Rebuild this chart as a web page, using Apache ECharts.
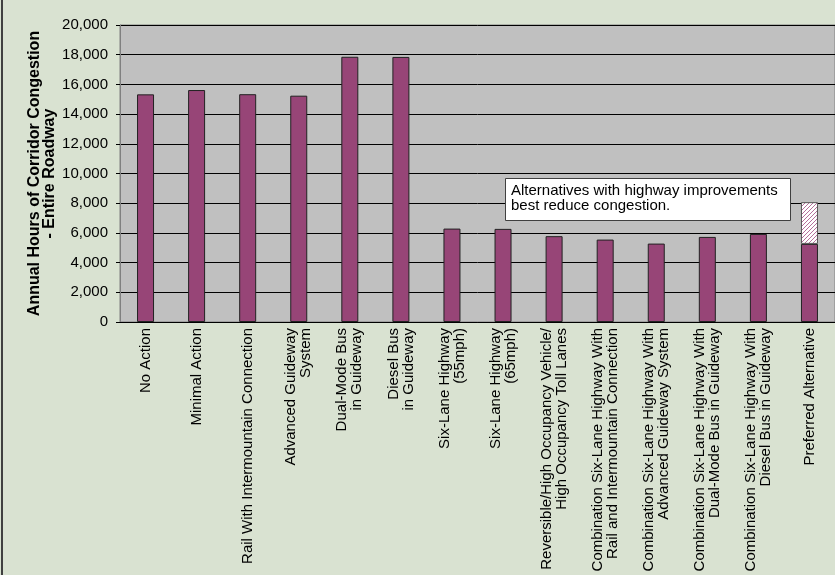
<!DOCTYPE html>
<html>
<head>
<meta charset="utf-8">
<script src="https://cdn.jsdelivr.net/npm/echarts@6/dist/echarts.min.js"></script>
<style>
html,body{margin:0;padding:0;background:#d9e2d1;}
#chart{width:835px;height:575px;}
</style>
</head>
<body>
<div id="chart"></div>
<script>
const categories = [
  'No Action',
  'Minimal Action',
  'Rail With Intermountain Connection',
  'Advanced Guideway\nSystem',
  'Dual-Mode Bus\nin Guideway',
  'Diesel Bus\nin Guideway',
  'Six-Lane Highway\n(55mph)',
  'Six-Lane Highway\n(65mph)',
  'Reversible/High Occupancy Vehicle/\nHigh Occupancy Toll Lanes',
  'Combination Six-Lane Highway With\nRail and Intermountain Connection',
  'Combination Six-Lane Highway With\nAdvanced Guideway System',
  'Combination Six-Lane Highway With\nDual-Mode Bus in Guideway',
  'Combination Six-Lane Highway With\nDiesel Bus in Guideway',
  'Preferred Alternative'
];
const congestion = [15330, 15620, 15340, 15240, 17860, 17850, 6290, 6270, 5780, 5550, 5280, 5730, 5930, 5260];
const preferredRangeExtra = ['-', '-', '-', '-', '-', '-', '-', '-', '-', '-', '-', '-', '-', 2810];
const yAxisMin = 0, yAxisMax = 20000, yAxisStep = 2000;
const yAxisTitle = 'Annual Hours of Corridor Congestion\n- Entire Roadway';
const noteText = 'Alternatives with highway improvements\nbest reduce congestion.';

const barColor = '#974577';

// hatch pattern for the range segment
const pat = document.createElement('canvas');
pat.width = 4; pat.height = 4;
const pctx = pat.getContext('2d');
pctx.fillStyle = '#ffffff';
pctx.fillRect(0, 0, 4, 4);
pctx.strokeStyle = '#b56f9b';
pctx.lineWidth = 1;
pctx.beginPath();
pctx.moveTo(0, 4); pctx.lineTo(4, 0);
pctx.moveTo(-1, 1); pctx.lineTo(1, -1);
pctx.moveTo(3, 5); pctx.lineTo(5, 3);
pctx.stroke();

const chart = echarts.init(document.getElementById('chart'), null, {renderer: 'canvas'});
const font = 'Arial, "Liberation Sans", sans-serif';
chart.setOption({
  backgroundColor: '#d9e2d1',
  animation: false,
  textStyle: {fontFamily: font},
  grid: {left: 120, top: 25, width: 720, bottom: 253, show: true, backgroundColor: '#c0c0c0', borderColor: '#808080', borderWidth: 1},
  xAxis: {
    type: 'category',
    data: categories,
    axisLine: {show: true, lineStyle: {color: '#000', width: 1}},
    axisTick: {show: false},
    axisLabel: {
      rotate: 90, interval: 0, margin: 6, color: '#000',
      fontSize: 15, lineHeight: 15, fontFamily: font
    }
  },
  yAxis: {
    type: 'value',
    min: yAxisMin, max: yAxisMax, interval: yAxisStep,
    name: yAxisTitle,
    nameLocation: 'middle',
    nameGap: 63,
    nameMoveOverlap: false,
    nameRotate: 90,
    nameTextStyle: {fontSize: 16, fontWeight: 'bold', color: '#000', lineHeight: 15, fontFamily: font, align: 'center'},
    axisLine: {show: true, lineStyle: {color: '#808080'}},
    axisTick: {show: true, length: 4, lineStyle: {color: '#000'}},
    splitLine: {show: true, lineStyle: {color: '#000', width: 1}},
    axisLabel: {
      color: '#000', fontSize: 15, margin: 12, fontFamily: font,
      formatter: v => v.toLocaleString('en-US')
    }
  },
  series: [
    {
      type: 'bar', stack: 'c', data: congestion, barWidth: 17,
      itemStyle: {color: barColor, borderColor: '#222', borderWidth: 1}
    },
    {
      type: 'bar', stack: 'c', data: preferredRangeExtra, barWidth: 17,
      itemStyle: {color: {image: pat, repeat: 'repeat'}, borderColor: '#555', borderWidth: 1}
    }
  ],
  graphic: [
    {type: 'line', shape: {x1: 2, y1: 0, x2: 2, y2: 575}, style: {stroke: '#404040', lineWidth: 2}, silent: true},
    {type: 'rect', shape: {x: 505.5, y: 178.5, width: 285, height: 42}, style: {fill: '#fff', stroke: '#404040', lineWidth: 1}, z: 100},
    {type: 'text', x: 511, y: 183, z: 101, style: {text: noteText, font: '15px ' + font, fill: '#000', lineHeight: 15}}
  ]
});
</script>
</body>
</html>
